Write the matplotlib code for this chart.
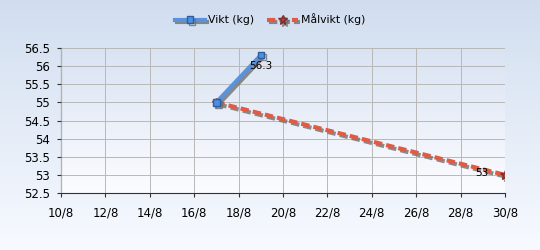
import numpy as np
import matplotlib.pyplot as plt
import matplotlib.patheffects as pe

# data
vikt_days = [17, 19]
vikt_kg = [55.0, 56.3]
mal_days = [17, 30]
mal_kg = [55.0, 53.0]
xticks = [10, 12, 14, 16, 18, 20, 22, 24, 26, 28, 30]
xlabels = [f"{d}/8" for d in xticks]
yticks = [52.5, 53, 53.5, 54, 54.5, 55, 55.5, 56, 56.5]

plt.rcParams['font.family'] = ['DejaVu Sans']
fig = plt.figure(figsize=(5.4, 2.5), dpi=100)

# background gradient
bg = fig.add_axes([0, 0, 1, 1], zorder=-10)
grad = np.linspace(0, 1, 256).reshape(-1, 1)
top = np.array([0.82, 0.87, 0.94])
bot = np.array([0.97, 0.98, 1.0])
img = top + (bot - top) * grad[..., None]
bg.imshow(img, aspect='auto', extent=[0, 1, 0, 1])
bg.axis('off')

ax = fig.add_axes([0.113, 0.228, 0.822, 0.58])
ax.patch.set_alpha(0)
# plot-area gradient
ptop = np.array([0.85, 0.89, 0.95])
pbot = np.array([0.99, 0.99, 1.0])
pimg = ptop + (pbot - ptop) * grad[..., None]
ax.imshow(pimg, aspect='auto', extent=[10, 30, 52.5, 56.5], zorder=0)

shadow = [pe.SimpleLineShadow(offset=(1.5, -1.5), shadow_color='#707070', alpha=0.8), pe.Normal()]
ax.plot(vikt_days, vikt_kg, color='#5a92dc', lw=3, marker='s', ms=4.5,
        mfc='#4f8ee0', mec='#2c5f9e', label='Vikt (kg)', zorder=4, path_effects=shadow)
ax.plot(mal_days, mal_kg, color='#e05a44', lw=3, ls=(0, (2, 1)), marker='*', ms=7,
        mfc='#c03a30', mec='#7a3030', label='Målvikt (kg)', zorder=3, path_effects=shadow)

ax.text(vikt_days[-1], vikt_kg[-1] - 0.3, f"{vikt_kg[-1]:g}", ha='center', va='center',
        fontsize=7.5, zorder=6)
ax.text(mal_days[-1] - 1.05, mal_kg[-1] + 0.04, f"{mal_kg[-1]:g}", ha='center', va='center',
        fontsize=7.5, zorder=6)

ax.set_xlim(10, 30)
ax.set_ylim(52.5, 56.5)
ax.set_xticks(xticks)
ax.set_xticklabels(xlabels)
ax.set_yticks(yticks)
ax.set_yticklabels([f"{v:g}" for v in yticks])
ax.tick_params(labelsize=8.5, length=3, color='#333333', pad=5)
ax.tick_params(axis='x', pad=7)
ax.grid(True, color='#b8b8b8', lw=0.7)
ax.set_axisbelow(False)
for s in ['top', 'right']:
    ax.spines[s].set_visible(False)
for s in ['left', 'bottom']:
    ax.spines[s].set_color('#333333')

fig.legend(loc='upper center', bbox_to_anchor=(0.5, 0.985), ncol=2, frameon=False,
           fontsize=7.8, handlelength=2.8, columnspacing=1.2, handletextpad=0.3)

fig.savefig('out.png', dpi=100)
